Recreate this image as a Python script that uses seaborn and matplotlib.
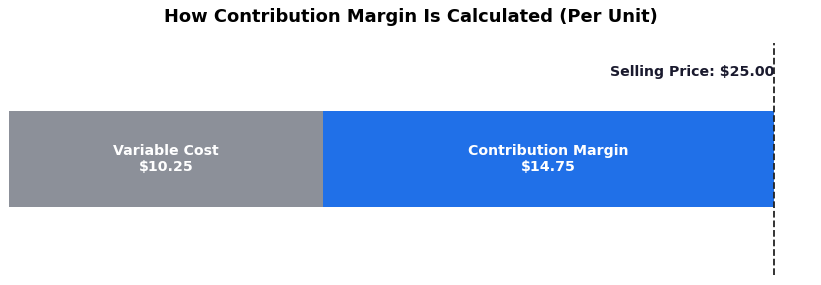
import matplotlib
matplotlib.use("Agg")
import matplotlib.pyplot as plt
import seaborn as sns
import pandas as pd

# per-unit figures
selling_price = 25.00
variable_cost = 10.25
contribution_margin = selling_price - variable_cost
segments = ["Variable Cost", "Contribution Margin"]
seg_values = [variable_cost, contribution_margin]
seg_colors = ["#8c9099", "#2070e8"]

sns.set_theme(style="white")
plt.rcParams['font.family'] = ['DejaVu Sans']

fig = plt.figure(figsize=(8.21, 2.85), dpi=100)
ax = fig.add_axes([9 / 821, 10 / 285, (804.6 - 9) / 821, 232 / 285])

df = pd.DataFrame({"row": ["unit"], "total": [selling_price], "var": [variable_cost]})
# full bar (price) in blue, variable cost over it in grey -> stacked look
sns.barplot(data=df, x="total", y="row", orient="h", color=seg_colors[1],
            width=0.5, saturation=1, linewidth=0, ax=ax)
sns.barplot(data=df, x="var", y="row", orient="h", color=seg_colors[0],
            width=0.5, saturation=1, linewidth=0, ax=ax)

left = 0
for name, val in zip(segments, seg_values):
    ax.text(left + val / 2, 0, f"{name}\n${val:.2f}", ha="center", va="center",
            color="white", fontsize=10.2, fontweight="bold", linespacing=1.15)
    left += val

ax.axvline(selling_price, color="#222222", linestyle="--", linewidth=1.3)
ax.text(selling_price, -0.45, f"Selling Price: ${selling_price:.2f}", ha="right",
        va="center", fontsize=10.2, fontweight="bold", color="#1a1a2e")

ax.set_xlim(0, 26)
ax.set_ylim(0.6, -0.6)
ax.axis("off")

fig.suptitle("How Contribution Margin Is Calculated (Per Unit)", fontsize=12.9,
             fontweight="bold", color="black", x=411 / 821, y=1 - 17 / 285, va="center")

fig.savefig("out.png", dpi=100)
